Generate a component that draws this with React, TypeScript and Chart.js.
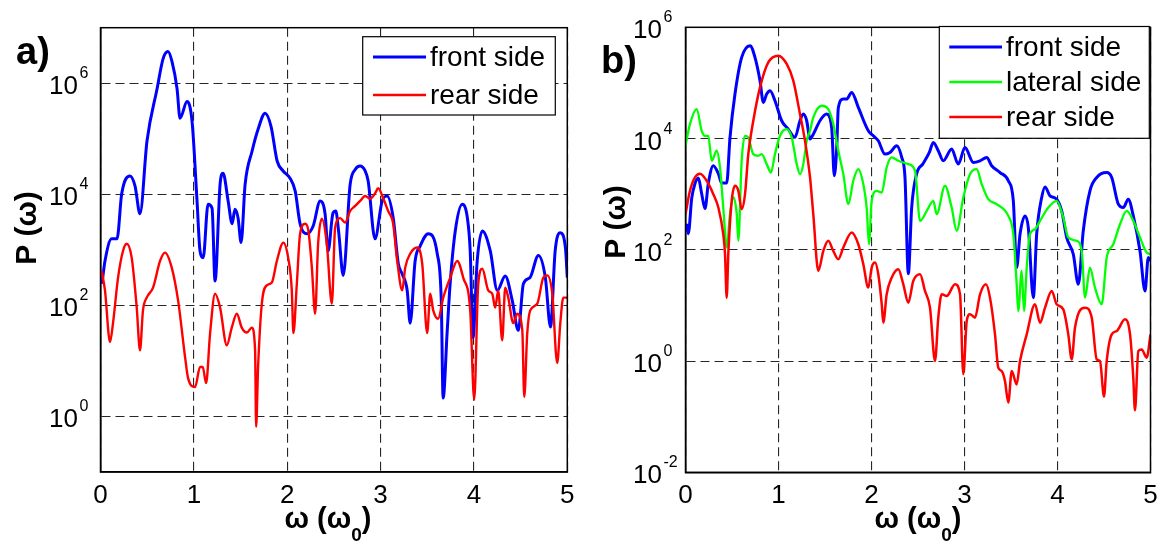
import React, { useEffect, useRef } from "react";
import { Chart, registerables } from "chart.js";

Chart.register(...registerables);

// ---------------- DATA ----------------
// Panel a) — [omega/omega0, P(omega)]
const frontSideA: [number, number][] = [
  [0.016, 245], [0.048, 631], [0.12, 1580], [0.177, 1580], [0.227, 10200], [0.316, 21400], [0.37, 14100],
  [0.423, 4470], [0.498, 91200], [0.606, 794000], [0.67, 2750000], [0.723, 3720000], [0.766, 2450000],
  [0.82, 794000], [0.852, 234000], [0.927, 468000], [0.981, 204000], [1.034, 7590], [1.066, 955], [1.1, 724],
  [1.152, 6610], [1.195, 5620], [1.227, 275], [1.281, 15100], [1.313, 24000], [1.367, 7590], [1.41, 2950],
  [1.44, 5370], [1.474, 3720], [1.506, 1350], [1.549, 15100], [1.624, 60300], [1.688, 148000], [1.763, 288000],
  [1.827, 166000], [1.892, 39800], [1.956, 26300], [2.03, 19500], [2.085, 11500], [2.138, 2950], [2.213, 1950],
  [2.278, 2690], [2.353, 7590], [2.406, 4370], [2.438, 955], [2.49, 4570], [2.52, 5010], [2.55, 2190],
  [2.6, 347], [2.674, 15100], [2.73, 28200], [2.78, 32400], [2.835, 26300], [2.867, 17400], [2.94, 1580],
  [3.017, 7590], [3.07, 9330], [3.135, 3800], [3.19, 562], [3.23, 372], [3.285, 186], [3.317, 47.9],
  [3.37, 631], [3.424, 1170], [3.51, 1950], [3.607, 851], [3.65, 123], [3.67, 2.14], [3.714, 35.5],
  [3.745, 245], [3.8, 2190], [3.875, 6610], [3.93, 3720], [3.96, 955], [3.99, 26.3], [4.035, 631],
  [4.09, 2190], [4.175, 955], [4.25, 186], [4.335, 339], [4.41, 123], [4.475, 35.5], [4.53, 245],
  [4.6, 316], [4.69, 794], [4.765, 316], [4.82, 40.7], [4.87, 955], [4.925, 2040], [4.98, 1100], [5.0, 316],
];

const rearSideA: [number, number][] = [
  [0.013, 417], [0.048, 186], [0.102, 21.9], [0.134, 47.9], [0.188, 316], [0.241, 955], [0.281, 1290],
  [0.334, 724], [0.388, 91.2], [0.423, 15.5], [0.455, 81.3], [0.495, 138], [0.563, 209], [0.638, 631],
  [0.691, 891], [0.763, 479], [0.831, 123], [0.906, 11.7], [0.938, 4.9], [1.013, 3.39], [1.066, 7.76],
  [1.095, 7.76], [1.131, 3.98], [1.174, 31.6], [1.227, 162], [1.281, 91.2], [1.353, 19.1], [1.406, 39.8],
  [1.46, 70.8], [1.513, 39.8], [1.567, 32.4], [1.621, 39.8], [1.656, 15.5], [1.667, 0.65], [1.688, 7.76],
  [1.728, 107], [1.781, 229], [1.835, 257], [1.889, 631], [1.959, 1350], [2.01, 724], [2.049, 186],
  [2.066, 31.6], [2.103, 245], [2.138, 1950], [2.192, 2950], [2.227, 2190], [2.264, 479], [2.299, 70.8],
  [2.331, 1290], [2.371, 3630], [2.424, 1290], [2.478, 107], [2.513, 2510], [2.567, 3720], [2.62, 3090],
  [2.674, 5010], [2.728, 6170], [2.781, 7590], [2.835, 9330], [2.888, 8320], [2.942, 10500], [2.974, 12900],
  [3.028, 8510], [3.081, 5010], [3.135, 2950], [3.178, 631], [3.232, 186], [3.264, 479], [3.317, 851],
  [3.392, 1100], [3.446, 562], [3.499, 31.6], [3.532, 162], [3.564, 81.3], [3.617, 57.5], [3.671, 138],
  [3.746, 316], [3.821, 631], [3.885, 316], [3.96, 81.3], [4.003, 2.0], [4.046, 245], [4.089, 457],
  [4.153, 186], [4.196, 162], [4.228, 91.2], [4.26, 186], [4.303, 23.4], [4.335, 209], [4.368, 138],
  [4.421, 47.9], [4.464, 70.8], [4.518, 35.5], [4.539, 2.24], [4.571, 31.6], [4.603, 81.3], [4.678, 107],
  [4.743, 316], [4.785, 347], [4.839, 162], [4.892, 9.12], [4.925, 47.9], [4.957, 138], [5.0, 138],
];

// Panel b)
const frontSideB: [number, number][] = [
  [0.013, 295], [0.03, 195], [0.067, 851], [0.102, 1550], [0.138, 1950], [0.174, 1020], [0.21, 550],
  [0.245, 1550], [0.299, 3240], [0.353, 2340], [0.389, 1580], [0.443, 1580], [0.478, 10200], [0.532, 63100],
  [0.604, 288000], [0.694, 468000], [0.747, 288000], [0.801, 110000], [0.837, 44700], [0.873, 63100],
  [0.909, 72400], [0.962, 47900], [1.034, 20900], [1.105, 14800], [1.177, 10500], [1.231, 20900],
  [1.267, 27500], [1.303, 20900], [1.339, 9770], [1.374, 12000], [1.446, 20900], [1.518, 27500],
  [1.572, 15500], [1.6, 2140], [1.626, 6760], [1.643, 35500], [1.697, 51300], [1.733, 51300], [1.787, 67600],
  [1.858, 36300], [1.966, 13800], [2.019, 11200], [2.073, 9120], [2.145, 5250], [2.199, 5620], [2.271, 7410],
  [2.325, 4570], [2.36, 2000], [2.396, 37.2], [2.432, 575], [2.486, 2340], [2.551, 3470], [2.622, 5620],
  [2.665, 8510], [2.718, 6030], [2.772, 3980], [2.862, 6460], [2.933, 3470], [3.005, 6920], [3.095, 3720],
  [3.167, 3980], [3.239, 4570], [3.292, 3240], [3.382, 2450], [3.471, 1740], [3.525, 759], [3.561, 47.9],
  [3.597, 191], [3.651, 407], [3.686, 251], [3.74, 13.8], [3.776, 191], [3.83, 871], [3.866, 1350],
  [3.919, 933], [3.991, 813], [4.045, 501], [4.099, 166], [4.17, 83.2], [4.224, 24], [4.277, 219],
  [4.349, 1150], [4.422, 2000], [4.529, 2450], [4.583, 2000], [4.654, 661], [4.708, 575], [4.761, 813],
  [4.815, 407], [4.887, 95.5], [4.941, 18.2], [4.976, 72.4], [5.0, 63.1],
];

const lateralSideB: [number, number][] = [
  [0.0, 7410], [0.048, 18200], [0.12, 33900], [0.174, 13800], [0.21, 11200], [0.245, 11200], [0.282, 3980],
  [0.335, 6030], [0.371, 3020], [0.406, 575], [0.443, 110], [0.478, 437], [0.514, 871], [0.551, 437],
  [0.568, 145], [0.604, 3980], [0.64, 11200], [0.675, 10500], [0.729, 5250], [0.783, 4900], [0.819, 5250],
  [0.873, 3470], [0.919, 2450], [0.962, 5250], [1.016, 11200], [1.088, 14800], [1.142, 10500], [1.196, 3470],
  [1.231, 2290], [1.267, 3470], [1.303, 9120], [1.339, 13800], [1.374, 24000], [1.465, 38900], [1.535, 33900],
  [1.589, 18200], [1.643, 6030], [1.697, 2290], [1.751, 661], [1.804, 1740], [1.858, 2820], [1.912, 1510],
  [1.948, 575], [1.973, 126], [2.002, 759], [2.056, 1150], [2.11, 1070], [2.163, 3020], [2.217, 4570],
  [2.288, 3980], [2.396, 3470], [2.468, 2630], [2.522, 331], [2.594, 501], [2.665, 759], [2.701, 437],
  [2.79, 1410], [2.862, 575], [2.916, 219], [2.987, 871], [3.059, 2290], [3.131, 2820], [3.185, 1510],
  [3.256, 813], [3.346, 661], [3.471, 407], [3.525, 191], [3.561, 24], [3.578, 7.94], [3.615, 41.7],
  [3.64, 7.94], [3.669, 47.9], [3.704, 191], [3.758, 234], [3.812, 331], [3.901, 575], [3.991, 759],
  [4.062, 380], [4.116, 166], [4.206, 145], [4.26, 95.5], [4.296, 13.8], [4.349, 47.9], [4.403, 20.9],
  [4.475, 10.5], [4.529, 72.4], [4.6, 126], [4.672, 288], [4.744, 501], [4.815, 331], [4.887, 166],
  [4.959, 89.1], [5.0, 83.2],
];

const rearSideB: [number, number][] = [
  [0.0, 437], [0.048, 1150], [0.102, 2000], [0.156, 2340], [0.228, 1740], [0.299, 1000], [0.353, 575],
  [0.406, 191], [0.425, 83.2], [0.443, 13.8], [0.46, 83.2], [0.497, 759], [0.532, 1410], [0.568, 1150],
  [0.604, 537], [0.64, 1000], [0.675, 5250], [0.729, 20900], [0.801, 83200], [0.89, 234000], [0.998, 309000],
  [1.088, 219000], [1.159, 110000], [1.231, 27500], [1.285, 9120], [1.339, 2000], [1.374, 437], [1.428, 41.7],
  [1.482, 95.5], [1.535, 145], [1.589, 95.5], [1.643, 67.6], [1.697, 110], [1.787, 204], [1.858, 126],
  [1.912, 55], [1.966, 20.9], [2.002, 47.9], [2.038, 58.9], [2.073, 36.3], [2.11, 10.5], [2.127, 4.9],
  [2.163, 15.8], [2.217, 31.6], [2.288, 44.7], [2.342, 24], [2.396, 11.2], [2.449, 27.5], [2.522, 36.3],
  [2.575, 18.2], [2.629, 9.12], [2.683, 1.0], [2.718, 6.03], [2.755, 15.8], [2.809, 14.8], [2.898, 24],
  [2.952, 15.8], [2.987, 0.58], [3.024, 5.25], [3.059, 6.92], [3.113, 6.03], [3.167, 15.8], [3.231, 24],
  [3.274, 13.8], [3.328, 3.02], [3.363, 0.76], [3.4, 0.66], [3.435, 0.44], [3.471, 0.18], [3.508, 0.66],
  [3.561, 0.38], [3.597, 1.0], [3.669, 3.02], [3.758, 10.5], [3.812, 4.9], [3.866, 9.12], [3.938, 18.2],
  [3.991, 10.5], [4.062, 8.51], [4.116, 3.02], [4.153, 1.07], [4.188, 3.98], [4.296, 9.12], [4.368, 6.03],
  [4.422, 1.07], [4.457, 1.0], [4.5, 0.23], [4.529, 1.0], [4.583, 3.02], [4.637, 3.47], [4.726, 5.62],
  [4.78, 3.02], [4.815, 0.5], [4.833, 0.13], [4.869, 1.51], [4.905, 1.62], [4.959, 1.15], [5.0, 3.02],
];

// Axes / ticks
const xTickValues = [0, 1, 2, 3, 4, 5];
const xTickLabels = ["0", "1", "2", "3", "4", "5"];
const yTickValuesA = [1, 100, 1e4, 1e6];
const yTickExponentsA = ["0", "2", "4", "6"];
const yTickValuesB = [0.01, 1, 100, 1e4, 1e6];
const yTickExponentsB = ["-2", "0", "2", "4", "6"];
const yTickBase = "10";

const seriesNames = { front: "front side", lateral: "lateral side", rear: "rear side" };
const panelLetters = ["a)", "b)"];
const xTitleMain = "\u03C9 (\u03C9";
const xTitleSub = "0";
const yTitle = "P (\u03C9)";

// ---------------- STYLE ----------------
const FONT = '"Liberation Sans", Arial, Helvetica, sans-serif';
const W = 583;
const H = 549;

type Decor = {
  letter: string;
  letterX: number;
  letterY: number;
  yTitleX: number;
  yTitleY: number;
  xTitleX: number;
  tickBaseRight: number;
  legendBox: [number, number, number, number];
  legendLineX: [number, number];
  legendTextX: number;
  legendRows: number[];
};

function decorPlugin(d: Decor, yVals: number[], yExps: string[]) {
  return {
    id: "decor",
    afterDraw(chart: any) {
      const { ctx, chartArea: ca } = chart;
      const yScale = chart.scales.y;
      ctx.save();
      ctx.setLineDash([]);
      // frame
      ctx.strokeStyle = "#000";
      ctx.lineWidth = 1.5;
      ctx.strokeRect(ca.left, ca.top, ca.right - ca.left, ca.bottom - ca.top);

      // y tick labels: "10" with raised exponent
      ctx.fillStyle = "#000";
      yVals.forEach((v, i) => {
        const y = yScale.getPixelForValue(v);
        ctx.font = `26px ${FONT}`;
        ctx.textAlign = "right";
        ctx.textBaseline = "alphabetic";
        ctx.fillText(yTickBase, d.tickBaseRight, y + 11);
        ctx.font = `16px ${FONT}`;
        ctx.textAlign = "left";
        ctx.fillText(yExps[i], d.tickBaseRight + 1.5, y - 5);
      });

      // legend
      const [bx1, by1, bx2, by2] = d.legendBox;
      ctx.fillStyle = "#fff";
      ctx.fillRect(bx1, by1, bx2 - bx1, by2 - by1);
      ctx.lineWidth = 1.2;
      ctx.strokeStyle = "#000";
      ctx.strokeRect(bx1, by1, bx2 - bx1, by2 - by1);
      const ds = chart.data.datasets;
      ctx.font = `28px ${FONT}`;
      ctx.textAlign = "left";
      ctx.textBaseline = "middle";
      ds.forEach((s: any, i: number) => {
        const y = d.legendRows[i];
        ctx.strokeStyle = s.borderColor;
        ctx.lineWidth = s.borderWidth;
        ctx.beginPath();
        ctx.moveTo(d.legendLineX[0], y);
        ctx.lineTo(d.legendLineX[1], y);
        ctx.stroke();
        ctx.fillStyle = "#000";
        ctx.fillText(s.label, d.legendTextX, y + 1);
      });

      // panel letter
      ctx.fillStyle = "#000";
      ctx.font = `bold 38px ${FONT}`;
      ctx.textAlign = "left";
      ctx.textBaseline = "alphabetic";
      ctx.fillText(d.letter, d.letterX, d.letterY);

      // y title
      ctx.save();
      ctx.translate(d.yTitleX, d.yTitleY);
      ctx.rotate(-Math.PI / 2);
      ctx.font = `bold 30px ${FONT}`;
      ctx.textAlign = "center";
      ctx.textBaseline = "middle";
      ctx.fillText(yTitle, 0, 0);
      ctx.restore();

      // x title with subscript
      const mainFont = `bold 29px ${FONT}`;
      const subFont = `bold 19px ${FONT}`;
      ctx.font = mainFont;
      const w1 = ctx.measureText(xTitleMain).width;
      const w3 = ctx.measureText(")").width;
      ctx.font = subFont;
      const w2 = ctx.measureText(xTitleSub).width;
      const total = w1 + w2 + w3;
      let x = d.xTitleX - total / 2;
      const base = 528;
      ctx.textAlign = "left";
      ctx.textBaseline = "alphabetic";
      ctx.font = mainFont;
      ctx.fillText(xTitleMain, x, base);
      x += w1;
      ctx.font = subFont;
      ctx.fillText(xTitleSub, x, base + 13);
      x += w2;
      ctx.font = mainFont;
      ctx.fillText(")", x, base);
      ctx.restore();
    },
  };
}

function makeConfig(
  sets: { label: string; data: [number, number][]; color: string; width: number; order: number }[],
  yMin: number,
  yMax: number,
  yVals: number[],
  yExps: string[],
  area: { left: number; right: number; top: number; bottom: number },
  decor: Decor
): any {
  const gridStyle = { color: "#262626", lineWidth: 1.1, drawTicks: false };
  const borderStyle = { display: true, color: "#000", width: 1.5, dash: [9, 5] };
  return {
    type: "line",
    data: {
      datasets: sets.map((s) => ({
        label: s.label,
        data: s.data.map(([x, y]) => ({ x, y })),
        borderColor: s.color,
        borderWidth: s.width,
        pointRadius: 0,
        cubicInterpolationMode: "monotone",
        fill: false,
        order: s.order,
        borderJoinStyle: "round",
      })),
    },
    options: {
      responsive: false,
      animation: false,
      events: [],
      layout: { padding: { left: 0, right: W - area.right, top: area.top, bottom: 0 } },
      plugins: { legend: { display: false }, tooltip: { enabled: false }, title: { display: false } },
      scales: {
        x: {
          type: "linear",
          min: 0,
          max: 5,
          afterBuildTicks: (sc: any) => {
            sc.ticks = xTickValues.map((v) => ({ value: v }));
          },
          afterFit: (sc: any) => {
            sc.height = H - area.bottom;
          },
          ticks: {
            autoSkip: false,
            maxRotation: 0,
            padding: 8,
            color: "#000",
            font: { family: FONT, size: 26 },
            callback: (v: number) => {
              const i = xTickValues.indexOf(v);
              return i >= 0 ? xTickLabels[i] : "";
            },
          },
          grid: gridStyle,
          border: borderStyle,
        },
        y: {
          type: "logarithmic",
          min: yMin,
          max: yMax,
          afterBuildTicks: (sc: any) => {
            sc.ticks = yVals.map((v) => ({ value: v }));
          },
          afterFit: (sc: any) => {
            sc.width = area.left;
          },
          ticks: { display: false },
          grid: gridStyle,
          border: borderStyle,
        },
      },
    },
    plugins: [decorPlugin(decor, yVals, yExps)],
  };
}

export default function App() {
  const refA = useRef<HTMLCanvasElement | null>(null);
  const refB = useRef<HTMLCanvasElement | null>(null);

  useEffect(() => {
    const cfgA = makeConfig(
      [
        { label: seriesNames.front, data: frontSideA, color: "#0000ff", width: 3, order: 1 },
        { label: seriesNames.rear, data: rearSideA, color: "#ff0000", width: 2.4, order: 0 },
      ],
      0.1,
      1e7,
      yTickValuesA,
      yTickExponentsA,
      { left: 100.5, right: 567.3, top: 27.7, bottom: 472 },
      {
        letter: panelLetters[0],
        letterX: 16,
        letterY: 64,
        yTitleX: 28,
        yTitleY: 228,
        xTitleX: 328,
        tickBaseRight: 78,
        legendBox: [362.7, 36.7, 555.3, 115],
        legendLineX: [373, 426],
        legendTextX: 430,
        legendRows: [57, 95],
      }
    );
    const cfgB = makeConfig(
      [
        { label: seriesNames.front, data: frontSideB, color: "#0000ff", width: 3, order: 2 },
        { label: seriesNames.lateral, data: lateralSideB, color: "#00ff00", width: 2.3, order: 1 },
        { label: seriesNames.rear, data: rearSideB, color: "#ff0000", width: 2.5, order: 0 },
      ],
      0.01,
      1e6,
      yTickValuesB,
      yTickExponentsB,
      { left: 102.5, right: 567.5, top: 27.3, bottom: 472.3 },
      {
        letter: panelLetters[1],
        letterX: 18,
        letterY: 73,
        yTitleX: 34,
        yTitleY: 222,
        xTitleX: 335,
        tickBaseRight: 79,
        legendBox: [356.3, 26.5, 566.3, 138.3],
        legendLineX: [366.3, 419],
        legendTextX: 423,
        legendRows: [47, 82, 117],
      }
    );
    const a = new Chart(refA.current as HTMLCanvasElement, cfgA);
    const b = new Chart(refB.current as HTMLCanvasElement, cfgB);
    return () => {
      a.destroy();
      b.destroy();
    };
  }, []);

  return (
    <div style={{ position: "absolute", left: 0, top: 0, width: 1166, height: 549, background: "#fff" }}>
      <canvas ref={refA} width={W} height={H} style={{ position: "absolute", left: 0, top: 0 }} />
      <canvas ref={refB} width={W} height={H} style={{ position: "absolute", left: 583, top: 0 }} />
    </div>
  );
}
